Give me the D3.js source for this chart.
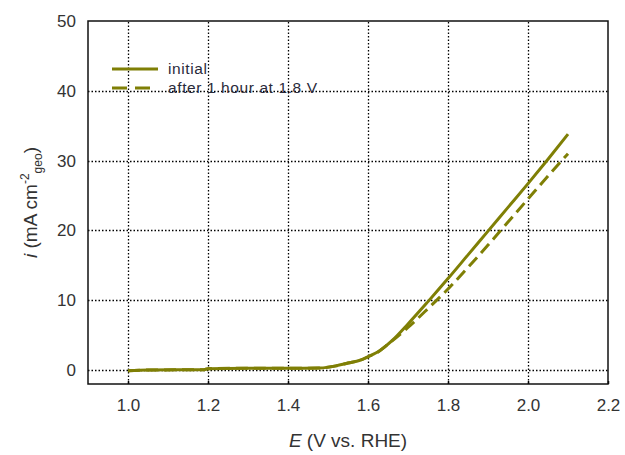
<!DOCTYPE html>
<html>
<head>
<meta charset="utf-8">
<script src="https://cdn.jsdelivr.net/npm/d3@7"></script>
<style>
  body { margin: 0; background: #fff; }
  text { font-family: "Liberation Sans", Arial, sans-serif; }
</style>
</head>
<body>
<div id="graph"></div>
<script>
// E (V vs RHE) and i (mA cm-2)
var initialE = [1.00, 1.05, 1.19, 1.20, 1.30, 1.40, 1.48, 1.52, 1.55, 1.58, 1.60, 1.63, 1.66, 1.70, 1.75, 1.80, 1.85, 1.90, 1.95, 2.00, 2.05, 2.10]
var initialI = [-0.1, 0.0, 0.05, 0.2, 0.25, 0.25, 0.3, 0.6, 1.0, 1.4, 1.9, 2.8, 4.2, 6.6, 9.8, 13.1, 16.5, 19.9, 23.3, 26.7, 30.2, 33.8]

var afterE = [1.00, 1.05, 1.19, 1.20, 1.30, 1.40, 1.48, 1.52, 1.55, 1.58, 1.60, 1.62, 1.65, 1.70, 1.75, 1.80, 1.85, 1.90, 1.95, 2.00, 2.05, 2.10]
var afterI = [-0.1, 0.0, 0.05, 0.2, 0.25, 0.25, 0.3, 0.6, 1.0, 1.4, 1.9, 2.4, 3.7, 6.1, 8.8, 11.6, 14.7, 17.9, 21.2, 24.5, 27.8, 31.0]

var xTicks = [1.0, 1.2, 1.4, 1.6, 1.8, 2.0, 2.2]
var yTicks = [0, 10, 20, 30, 40, 50]

var seriesNames = ['initial', 'after 1 hour at 1.8 V']

var width = 625, height = 455
var margin = {left: 88, right: 17, top: 21, bottom: 71}
var color = '#7f7f05'

var svg = d3.select('#graph').append('svg')
  .attr('width', width).attr('height', height)

var x = d3.scaleLinear().domain([0.9, 2.2]).range([margin.left, width - margin.right])
var y = d3.scaleLinear().domain([-2, 50]).range([height - margin.bottom, margin.top])

// dotted grid
svg.append('g').selectAll('line').data(xTicks.filter(d => d < 2.2)).join('line')
  .attr('x1', d => Math.round(x(d)) + 0.5).attr('x2', d => Math.round(x(d)) + 0.5)
  .attr('y1', y(-2)).attr('y2', y(50))
  .attr('stroke', '#000').attr('stroke-width', 1.3).attr('stroke-dasharray', '1.5,2')

svg.append('g').selectAll('line').data(yTicks.filter(d => d < 50)).join('line')
  .attr('x1', x(0.9)).attr('x2', x(2.2))
  .attr('y1', d => Math.round(y(d)) + 0.5).attr('y2', d => Math.round(y(d)) + 0.5)
  .attr('stroke', '#000').attr('stroke-width', 1.3).attr('stroke-dasharray', '1.5,2')

// axes (labels only, frame drawn separately)
var xAxis = svg.append('g')
  .attr('transform', `translate(0,${y(-2)})`)
  .call(d3.axisBottom(x).tickValues(xTicks).tickFormat(d3.format('.1f')).tickSize(3).tickPadding(12))
xAxis.select('.domain').remove()
xAxis.selectAll('line').attr('transform', 'translate(0,-3)').attr('stroke-width', 1.5)
xAxis.selectAll('text').attr('font-size', 17).attr('fill', '#333')

var yAxis = svg.append('g')
  .attr('transform', `translate(${x(0.9)},0)`)
  .call(d3.axisLeft(y).tickValues(yTicks).tickSize(0).tickPadding(12))
yAxis.select('.domain').remove()
yAxis.selectAll('text').attr('font-size', 17).attr('fill', '#333')

// frame
svg.append('rect')
  .attr('x', x(0.9)).attr('y', y(50))
  .attr('width', x(2.2) - x(0.9)).attr('height', y(-2) - y(50))
  .attr('fill', 'none').attr('stroke', '#111').attr('stroke-width', 1.5)

// curves
var line = d3.line().x(d => x(d[0])).y(d => y(d[1])).curve(d3.curveMonotoneX)

svg.append('path')
  .datum(d3.zip(afterE, afterI))
  .attr('d', line)
  .attr('fill', 'none').attr('stroke', color).attr('stroke-width', 3)
  .attr('stroke-dasharray', '12,6')

svg.append('path')
  .datum(d3.zip(initialE, initialI))
  .attr('d', line)
  .attr('fill', 'none').attr('stroke', color).attr('stroke-width', 3)

// legend
var legend = svg.append('g')
seriesNames.forEach((name, i) => {
  var ly = 69 + i * 19
  legend.append('line')
    .attr('x1', 112).attr('x2', 158).attr('y1', ly).attr('y2', ly)
    .attr('stroke', color).attr('stroke-width', 3)
    .attr('stroke-dasharray', i ? '15,8' : null)
  legend.append('text')
    .attr('x', 168).attr('y', ly + 5)
    .attr('font-size', 15.5).attr('letter-spacing', 0.6).attr('fill', '#2a2a3a')
    .text(name)
})

// axis titles
var xt = svg.append('text')
  .attr('x', (x(0.9) + x(2.2)) / 2).attr('y', 447)
  .attr('text-anchor', 'middle').attr('font-size', 19).attr('fill', '#333')
xt.append('tspan').attr('font-style', 'italic').text('E')
xt.append('tspan').text(' (V vs. RHE)')

var yt = svg.append('text')
  .attr('transform', `translate(37,${y(24)}) rotate(-90)`)
  .attr('text-anchor', 'middle').attr('font-size', 19).attr('fill', '#333')
yt.append('tspan').attr('font-style', 'italic').text('i')
yt.append('tspan').text(' (mA cm')
yt.append('tspan').attr('font-size', 12).attr('dy', -8).text('-2')
yt.append('tspan').attr('font-size', 12).attr('dy', 13).text('geo')
yt.append('tspan').attr('dy', -5).text(')')
</script>
</body>
</html>
